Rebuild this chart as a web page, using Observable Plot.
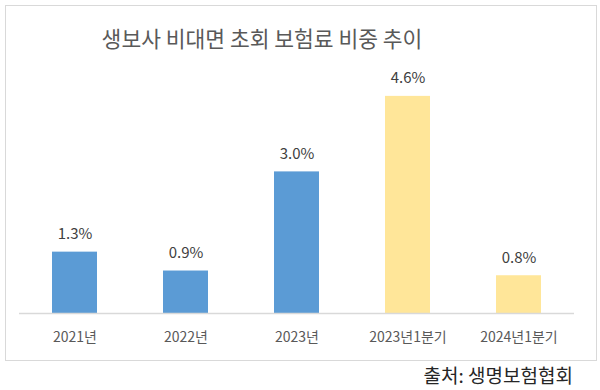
<!DOCTYPE html>
<html><head><meta charset="utf-8">
<script src="https://cdn.jsdelivr.net/npm/d3@7"></script>
<script src="https://cdn.jsdelivr.net/npm/@observablehq/plot@0.6"></script>
<style>
body{margin:0;background:#fff;font-family:"Noto Sans CJK KR","Noto Sans",sans-serif;}
#wrap{position:relative;width:600px;height:390px;overflow:hidden;}
#frame{position:absolute;left:5px;top:5px;width:592px;height:356px;border:1px solid #d9d9d9;box-sizing:border-box;}
#title{position:absolute;left:262px;top:26px;transform:translateX(-50%);white-space:nowrap;font-size:21.5px;line-height:24px;color:#595959;}
#caption{position:absolute;right:27px;top:364px;white-space:nowrap;font-size:19px;line-height:22px;color:#262626;}
#chart{position:absolute;left:0;top:0;}
</style>
</head><body>
<div id="wrap">
  <div id="frame"></div>
  <div id="title">생보사 비대면 초회 보험료 비중 추이</div>
  <div id="chart"></div>
  <div id="caption">출처: 생명보험협회</div>
</div>
<script>
const categories = ["2021년", "2022년", "2023년", "2023년1분기", "2024년1분기"];
const values = [1.3, 0.9, 3.0, 4.6, 0.8];
const valueLabels = ["1.3%", "0.9%", "3.0%", "4.6%", "0.8%"];
const groups = ["연간", "연간", "연간", "1분기", "1분기"];

const data = categories.map((c, i) => ({category: c, value: values[i], label: valueLabels[i], group: groups[i]}));

const chart = Plot.plot({
  width: 600,
  height: 360,
  marginLeft: 19,
  marginRight: 26,
  marginTop: 77,
  marginBottom: 47,
  x: {domain: categories, paddingInner: 0.595, paddingOuter: 0.2975, label: null, tickSize: 0, tickPadding: 19},
  y: {domain: [0, 5], axis: null},
  color: {domain: ["연간", "1분기"], range: ["#5B9BD5", "#FFE699"]},
  style: {fontFamily: '"Noto Sans CJK KR","Noto Sans",sans-serif', fontSize: "14px", color: "#595959", background: "transparent", overflow: "visible"},
  marks: [
    Plot.barY(data, {x: "category", y: "value", fill: "group"}),
    Plot.ruleY([0], {stroke: "#d9d9d9", strokeWidth: 1.5}),
    Plot.text(data, {x: "category", y: "value", text: "label", dy: -18, fontSize: 15, fill: "#404040"})
  ]
});
document.getElementById("chart").appendChild(chart);
</script>
</body></html>
